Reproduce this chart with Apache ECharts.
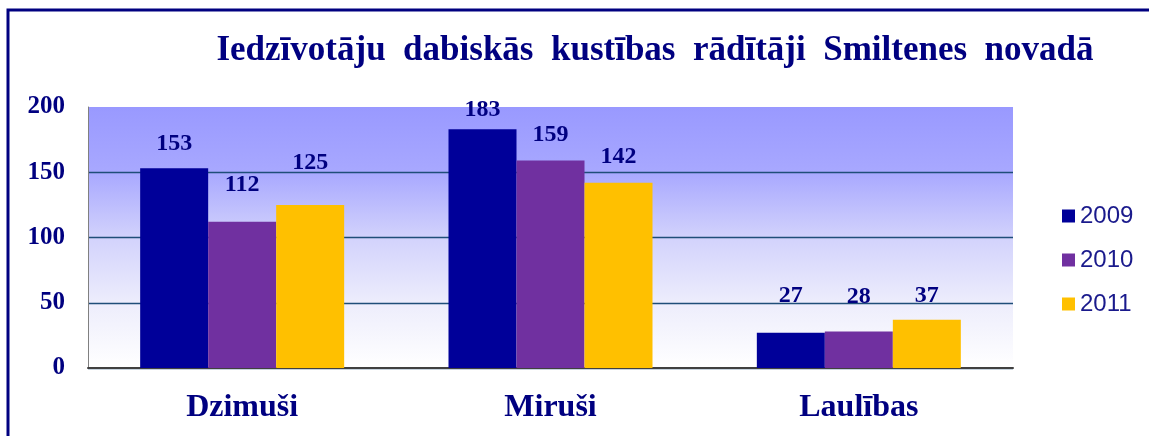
<!DOCTYPE html>
<html>
<head>
<meta charset="utf-8">
<title>Iedzīvotāju dabiskās kustības rādītāji</title>
<script src="https://cdn.jsdelivr.net/npm/echarts@6/dist/echarts.min.js"></script>
<style>
    html, body { margin: 0; padding: 0; background: #fff; }
    #main { width: 1149px; height: 436px; }
</style>
</head>
<body>
<div id="main"></div>
<script>
    // dati
    var categories = ['Dzimuši', 'Miruši', 'Laulības'];
    var years = ['2009', '2010', '2011'];
    var values2009 = [153, 183, 27];
    var values2010 = [112, 159, 28];
    var values2011 = [125, 142, 37];
    var yTicks = [0, 50, 100, 150, 200];

    // uzrakstu attālums virs stabiņiem (kā oriģinālā)
    var labelGaps = [[13, 7, 25], [25, 14, 23], [30, 14, 12]];
    var colors = ['#000099', '#7030a0', '#ffc000'];

    var serif = '"Liberation Serif", "Times New Roman", serif';
    var navy = '#000080';

    function makeSeries(name, values, color, gaps) {
        return {
            name: name,
            type: 'bar',
            barWidth: 68,
            barGap: '0%',
            itemStyle: { color: color },
            data: values.map(function (v, i) {
                return { value: v, label: { distance: gaps[i] } };
            }),
            label: {
                show: true,
                position: 'top',
                color: navy,
                fontFamily: serif,
                fontWeight: 'bold',
                fontSize: 24
            }
        };
    }

    var chart = echarts.init(document.getElementById('main'));
    chart.setOption({
        animation: false,
        color: colors,
        title: {
            text: 'Iedzīvotāju  dabiskās  kustības  rādītāji  Smiltenes  novadā',
            left: 650,
            textAlign: 'center',
            top: 28,
            textStyle: {
                color: navy,
                fontFamily: serif,
                fontWeight: 'bold',
                fontSize: 35
            }
        },
        legend: {
            orient: 'vertical',
            left: 1057,
            top: 199,
            icon: 'rect',
            itemWidth: 13,
            itemHeight: 13,
            itemGap: 20,
            data: years,
            textStyle: {
                color: '#1a1a8c',
                fontFamily: '"Liberation Sans", Arial, sans-serif',
                fontSize: 24
            }
        },
        // rāmis (labā un apakšējā mala ir ārpus attēla)
        graphic: [{
            type: 'polyline',
            shape: { points: [[8, 440], [8, 10], [1149, 10]] },
            style: { fill: null, stroke: navy, lineWidth: 3 },
            silent: true
        }],
        grid: {
            left: 88,
            right: 136,
            top: 107,
            bottom: 68,
            show: true,
            borderWidth: 0,
            backgroundColor: new echarts.graphic.LinearGradient(0, 0, 0, 1, [
                { offset: 0, color: '#9999ff' },
                { offset: 0.25, color: '#a8a8ff' },
                { offset: 0.5, color: '#d2d2fc' },
                { offset: 0.75, color: '#ededfc' },
                { offset: 1, color: '#ffffff' }
            ])
        },
        xAxis: {
            type: 'category',
            data: categories,
            axisTick: { show: false },
            axisLine: { lineStyle: { color: '#404040', width: 2 } },
            axisLabel: {
                color: navy,
                fontFamily: serif,
                fontWeight: 'bold',
                fontSize: 32,
                margin: 24
            }
        },
        yAxis: {
            type: 'value',
            min: yTicks[0],
            max: yTicks[yTicks.length - 1],
            interval: 50,
            axisLine: { show: true, lineStyle: { color: '#808080', width: 1 } },
            axisTick: { show: false },
            splitLine: {
                show: true,
                showMaxLine: false,
                lineStyle: { color: '#1f4e79', width: 1.3 }
            },
            axisLabel: {
                color: navy,
                fontFamily: serif,
                fontWeight: 'bold',
                fontSize: 25,
                margin: 23
            }
        },
        series: [
            makeSeries(years[0], values2009, colors[0], labelGaps[0]),
            makeSeries(years[1], values2010, colors[1], labelGaps[1]),
            makeSeries(years[2], values2011, colors[2], labelGaps[2])
        ]
    });
</script>
</body>
</html>
